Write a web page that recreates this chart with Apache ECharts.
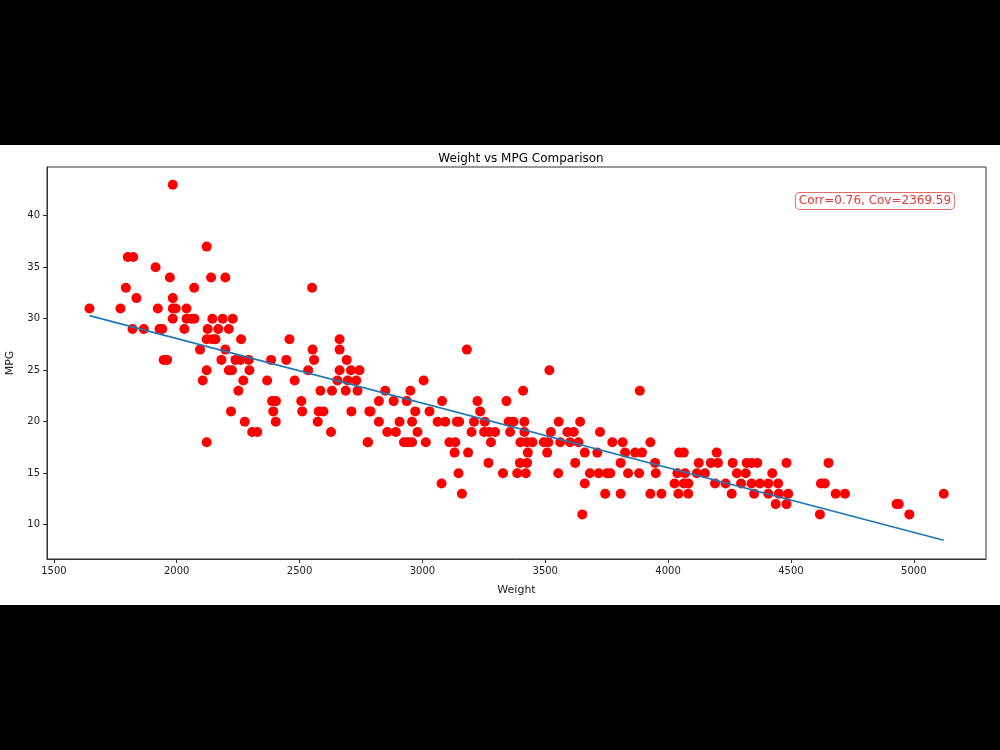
<!DOCTYPE html>
<html>
<head>
<meta charset="utf-8">
<title>Weight vs MPG Comparison</title>
<script src="https://cdn.jsdelivr.net/npm/echarts@6/dist/echarts.min.js"></script>
<style>
  html, body { margin: 0; padding: 0; background: #000; }
  #chart { position: absolute; left: 0; top: 145px; width: 1000px; height: 460px; background: #fff; }
</style>
</head>
<body>
<div id="chart"></div>
<script>
// values
const weights = [
  1984, 2122, 1801, 1823, 1914, 1972, 2140, 1793, 2071, 1836, 1984, 1645, 1771, 1923, 1984, 1996, 2040,
  1984, 2040, 2059, 2072, 2145, 1820, 1866, 1930, 1941, 2031, 2126, 2122, 2095, 1947, 1961, 2122, 2106, 2122,
  2198, 2551, 2187, 2228, 2169, 2212, 2145, 2158, 2262, 2459, 2663, 2198, 2553, 2663, 2182, 2239, 2259, 2293,
  2384, 2446, 2559, 2692, 2212, 2225, 2296, 2535, 2663, 2709, 2744, 2271, 2368, 2480, 2654, 2696, 2731, 2251,
  2585, 2632, 2688, 2736, 2388, 2404, 2507, 2221, 2393, 2511, 2578, 2597, 2711, 2784, 2277, 2403, 2574, 2307,
  2328, 2628, 2777,
  3181, 3005, 2849, 2951, 3410, 2823, 2883, 2936, 3080, 3224, 3342, 2789, 2971, 3029, 3235, 2823, 2907, 2958,
  3062, 3093, 3140, 3150, 3210, 3254, 3351, 3371, 3415, 2857, 2892, 2980, 3200, 3251, 3272, 3296, 3357, 3415,
  2779, 2925, 2941, 2958, 3014, 3110, 3134, 3279, 3399, 3426, 3131, 3186, 3429, 3269, 3397, 3426, 3147, 3328,
  3386, 3421, 3078, 3161,
  3517, 3885, 3555, 3642, 3523, 3590, 3616, 3723, 3448, 3494, 3513, 3561, 3601, 3635, 3773, 3815, 3928, 3508,
  3661, 3712, 3825, 3866, 3894, 4045, 4064, 3622, 3807, 3947, 3553, 3682, 3718, 3751, 3765, 3837, 3882, 3950,
  4038, 4069, 3661, 4026, 4064, 4083, 3744, 3807, 3928, 3973, 4042, 4082, 3651,
  4198, 4125, 4174, 4203, 4263, 4320, 4340, 4363, 4482, 4653, 4117, 4150, 4280, 4316, 4424, 4191, 4234, 4297,
  4340, 4374, 4408, 4448, 4622, 4638, 4259, 4350, 4408, 4451, 4489, 4682, 4720, 4438, 4482, 4618,
  4930, 4939, 4982, 5122
]
const mpgs = [
  43, 37, 36, 36, 35, 34, 34, 33, 33, 32, 32, 31, 31, 31, 31, 31, 31,
  30, 30, 30, 30, 30, 29, 29, 29, 29, 29, 29, 28, 27, 26, 26, 25, 24, 18,
  34, 33, 30, 30, 29, 29, 28, 28, 28, 28, 28, 27, 27, 27, 26, 26, 26, 26,
  26, 26, 26, 26, 25, 25, 25, 25, 25, 25, 25, 24, 24, 24, 24, 24, 24, 23,
  23, 23, 23, 23, 22, 22, 22, 21, 21, 21, 21, 21, 21, 21, 20, 20, 20, 19,
  19, 19, 18,
  27, 24, 23, 23, 23, 22, 22, 22, 22, 22, 22, 21, 21, 21, 21, 20, 20, 20,
  20, 20, 20, 20, 20, 20, 20, 20, 20, 19, 19, 19, 19, 19, 19, 19, 19, 19,
  18, 18, 18, 18, 18, 18, 18, 18, 18, 18, 17, 17, 17, 16, 16, 16, 15, 15,
  15, 15, 14, 13,
  25, 23, 20, 20, 19, 19, 19, 19, 18, 18, 18, 18, 18, 18, 18, 18, 18, 17,
  17, 17, 17, 17, 17, 17, 17, 16, 16, 16, 15, 15, 15, 15, 15, 15, 15, 15,
  15, 15, 14, 14, 14, 14, 13, 13, 13, 13, 13, 13, 11,
  17, 16, 16, 16, 16, 16, 16, 16, 16, 16, 15, 15, 15, 15, 15, 14, 14, 14,
  14, 14, 14, 14, 14, 14, 13, 13, 13, 13, 13, 13, 13, 12, 12, 11,
  12, 12, 11, 13
]
// fitted line end points
const lineWeights = [1645, 5122]
const lineMpgs = [30.3, 8.5]

const xTicks = [1500, 2000, 2500, 3000, 3500, 4000, 4500, 5000]
const yTicks = [10, 15, 20, 25, 30, 35, 40]

const corrText = 'Corr=0.76, Cov=2369.59'

const font = 'DejaVu Sans'
const chart = echarts.init(document.getElementById('chart'))

const option = {
  animation: false,
  backgroundColor: '#fff',
  textStyle: { fontFamily: font },
  title: {
    text: 'Weight vs MPG Comparison',
    left: 516,
    textAlign: 'center',
    top: 3,
    textStyle: { fontFamily: font, fontSize: 12, fontWeight: 'normal', color: '#000' }
  },
  grid: {
    left: 47,
    right: 14,
    top: 22,
    bottom: 46,
    containLabel: false,
    outerBoundsMode: 'none',
    show: true,
    borderColor: '#333',
    borderWidth: 1,
    backgroundColor: '#fff'
  },
  xAxis: {
    type: 'value',
    min: 1472,
    max: 5294,
    name: 'Weight',
    nameLocation: 'middle',
    nameGap: 26,
    nameTextStyle: { fontFamily: font, fontSize: 11, color: '#222' },
    axisLine: { show: true, onZero: false, lineStyle: { color: '#333' } },
    axisTick: { show: true, length: 4, customValues: xTicks, lineStyle: { color: '#333' } },
    axisLabel: {
      customValues: xTicks, margin: 7, fontSize: 10, color: '#222', fontFamily: font,
      formatter: v => String(v)
    },
    splitLine: { show: false }
  },
  yAxis: {
    type: 'value',
    min: 6.67,
    max: 44.73,
    name: 'MPG',
    nameLocation: 'middle',
    nameRotate: 90,
    nameGap: 31,
    nameTextStyle: { fontFamily: font, fontSize: 11, color: '#222' },
    axisLine: { show: true, onZero: false, lineStyle: { color: '#333' } },
    axisTick: { show: true, length: 4, customValues: yTicks, lineStyle: { color: '#333' } },
    axisLabel: {
      customValues: yTicks, margin: 7, fontSize: 10, color: '#222', fontFamily: font,
      formatter: v => String(v)
    },
    splitLine: { show: false }
  },
  graphic: [
    {
      type: 'text',
      x: 875,
      y: 56,
      z: 100,
      style: {
        text: corrText,
        align: 'center',
        verticalAlign: 'middle',
        fill: '#e03a3a',
        font: '12px "DejaVu Sans"',
        backgroundColor: '#fff',
        borderColor: '#e06a6a',
        borderWidth: 1,
        borderRadius: 4,
        padding: [2, 3]
      }
    }
  ],
  series: [
    {
      name: 'MPG',
      type: 'scatter',
      symbolSize: 10,
      itemStyle: { color: '#ff0000', opacity: 1 },
      data: weights.map((w, i) => [w, mpgs[i]]),
      z: 2
    },
    {
      name: 'Fit',
      type: 'line',
      showSymbol: false,
      symbol: 'none',
      lineStyle: { color: '#1f77b4', width: 1.6 },
      data: lineWeights.map((w, i) => [w, lineMpgs[i]]),
      z: 3
    }
  ]
}

chart.setOption(option)
</script>
</body>
</html>
